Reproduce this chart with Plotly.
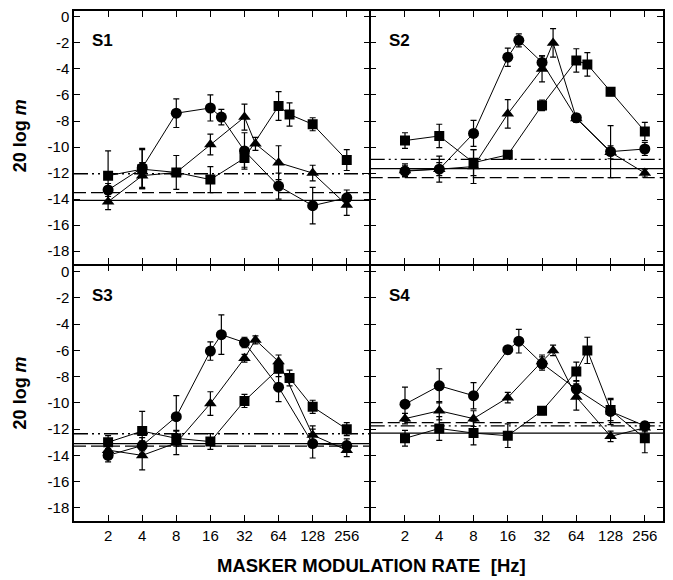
import math
import plotly.graph_objects as go

# ---------------- data ----------------
x_circ = [2, 4, 8, 16, 20, 32, 64, 128, 256]
x_tri = [2, 4, 8, 16, 32, 40, 64, 128, 256]
x_sq = [2, 4, 8, 16, 32, 64, 80, 128, 256]

# S1
s1_circ = [-13.3, -11.6, -7.4, -7.0, -7.7, -10.3, -13.0, -14.5, -13.9]
s1_circ_err = [0.5, 1.5, 1.1, 1.0, 0.6, 1.4, 1.0, 1.4, 0.6]
s1_tri = [-14.2, -12.2, -11.95, -9.8, -7.7, -9.75, -11.2, -12.0, -14.45]
s1_tri_err = [0.6, 1.0, 0.3, 0.8, 1.0, 0.5, 1.3, 0.6, 0.8]
s1_sq = [-12.2, -11.7, -11.95, -12.5, -10.85, -6.85, -7.5, -8.25, -11.0]
s1_sq_err = [1.9, 1.5, 1.3, 1.0, 0.7, 1.1, 0.9, 0.5, 0.8]
s1_lines = {"solid": -14.1, "dash": -13.5, "dashdotdot": -12.05}

# S2
s2_circ = [-11.85, -11.7, -8.95, -3.1, -1.8, -3.5, -7.75, -10.35, -10.15]
s2_circ_err = [0.4, 1.0, 1.0, 0.7, 0.5, 0.5, 0.3, 2.0, 0.5]
s2_tri = [-11.8, -11.7, -11.5, -7.45, -4.0, -2.0, -7.8, -10.4, -12.0]
s2_tri_err = [0.5, 0.5, 1.3, 1.1, 1.0, 1.1, 0.3, 0.5, 0.3]
s2_sq = [-9.5, -9.15, -11.2, -10.6, -6.8, -3.35, -3.65, -5.75, -8.8]
s2_sq_err = [0.6, 0.9, 1.0, 0.2, 0.4, 0.9, 0.9, 0.3, 0.7]
s2_lines = {"solid": -11.65, "dash": -12.35, "dashdotdot": -10.95}

# S3
s3_circ = [-14.0, -13.25, -11.05, -6.05, -4.8, -5.4, -8.8, -13.1, -13.25]
s3_circ_err = [0.5, 0.6, 1.6, 0.7, 1.5, 0.4, 1.1, 1.1, 0.5]
s3_tri = [-13.6, -14.0, -13.05, -10.05, -6.6, -5.2, -6.85, -12.45, -13.6]
s3_tri_err = [0.5, 1.1, 0.9, 0.9, 0.3, 0.3, 0.5, 0.7, 0.5]
s3_sq = [-13.0, -12.15, -12.7, -12.95, -9.85, -7.4, -8.1, -10.3, -12.0]
s3_sq_err = [0.5, 1.5, 0.6, 0.6, 0.5, 0.6, 0.6, 0.5, 0.5]
s3_lines = {"solid": -13.1, "dash": -13.3, "dashdotdot": -12.35}

# S4
s4_circ = [-10.1, -8.7, -9.45, -5.95, -5.3, -7.0, -8.95, -10.65, -11.75]
s4_circ_err = [1.3, 1.3, 1.0, 0.3, 0.9, 0.5, 0.6, 1.0, 0.3]
s4_tri = [-11.2, -10.6, -11.2, -9.6, -6.85, -6.0, -9.55, -12.55, -11.9]
s4_tri_err = [0.4, 0.7, 0.6, 0.4, 0.5, 0.4, 1.0, 0.4, 0.3]
s4_sq = [-12.7, -11.95, -12.3, -12.5, -10.6, -7.6, -6.0, -10.55, -12.7]
s4_sq_err = [0.6, 0.9, 0.9, 0.9, 0.3, 0.7, 1.0, 0.8, 1.1]
s4_lines = {"solid": -12.3, "dash": -11.5, "dashdotdot": -11.75}

panel_labels = ["S1", "S2", "S3", "S4"]
x_ticks = [2, 4, 8, 16, 32, 64, 128, 256]
x_tick_text = ["2", "4", "8", "16", "32", "64", "128", "256"]
y_ticks = [0, -2, -4, -6, -8, -10, -12, -14, -16, -18]
y_tick_text = ["0", "-2", "-4", "-6", "-8", "-10", "-12", "-14", "-16", "-18"]

panels = [
    (s1_circ, s1_circ_err, s1_tri, s1_tri_err, s1_sq, s1_sq_err, s1_lines),
    (s2_circ, s2_circ_err, s2_tri, s2_tri_err, s2_sq, s2_sq_err, s2_lines),
    (s3_circ, s3_circ_err, s3_tri, s3_tri_err, s3_sq, s3_sq_err, s3_lines),
    (s4_circ, s4_circ_err, s4_tri, s4_tri_err, s4_sq, s4_sq_err, s4_lines),
]

FONT = "Arial, Liberation Sans, sans-serif"
fig = go.Figure()

line_dash = {
    "solid": "solid",
    "dash": "12px,5px",
    "dashdotdot": "14px,4px,2px,4px,2px,4px",
}

for i, (c, ce, t, te, s, se, lines) in enumerate(panels):
    n = i + 1
    xa = "x" if n == 1 else f"x{n}"
    ya = "y" if n == 1 else f"y{n}"
    for xs, ys, es, sym, size in [
        (x_sq, s, se, "square", 10),
        (x_tri, t, te, "triangle-up", 11),
        (x_circ, c, ce, "circle", 11),
    ]:
        fig.add_trace(go.Scatter(
            x=xs, y=ys, mode="lines+markers", xaxis=xa, yaxis=ya,
            line=dict(color="black", width=1),
            marker=dict(symbol=sym, size=size, color="black"),
            error_y=dict(type="data", array=es, visible=True,
                         color="black", thickness=1.2, width=3),
            showlegend=False, hoverinfo="skip"))
    for style, yv in lines.items():
        fig.add_shape(type="line", xref=f"{xa} domain", yref=ya,
                      x0=0, x1=1, y0=yv, y1=yv,
                      line=dict(color="black", width=1.3, dash=line_dash[style]),
                      layer="below")

LW = 1.5
xdom_left = [0, 0.5013]
xdom_right = [0.5038, 1]
ydom_top = [0.5035, 1]
ydom_bot = [0, 0.5005]
yr = [-19, 0.45]
xr_left = [0, 8.66 * math.log10(2)]
xr_right = [0, 8.53 * math.log10(2)]

common_axis = dict(showline=True, linecolor="black", linewidth=LW,
                   mirror="ticks", ticks="inside", ticklen=6, tickwidth=1,
                   tickcolor="black", showgrid=False, zeroline=False,
                   tickfont=dict(family=FONT, size=15, color="black"))

def xaxis(dom, rng, anchor, labels):
    return dict(common_axis, type="log", domain=dom, range=rng, anchor=anchor,
                tickvals=x_ticks, ticktext=x_tick_text, showticklabels=labels)

def yaxis(dom, anchor, labels):
    return dict(common_axis, domain=dom, range=yr, anchor=anchor,
                tickvals=y_ticks, ticktext=y_tick_text, showticklabels=labels)

fig.update_layout(
    width=673, height=580,
    margin=dict(l=74, r=8, t=11, b=59),
    paper_bgcolor="white", plot_bgcolor="white",
    font=dict(family=FONT, color="black"),
    xaxis=xaxis(xdom_left, xr_left, "y", False),
    yaxis=yaxis(ydom_top, "x", True),
    xaxis2=xaxis(xdom_right, xr_right, "y2", False),
    yaxis2=yaxis(ydom_top, "x2", False),
    xaxis3=xaxis(xdom_left, xr_left, "y3", True),
    yaxis3=yaxis(ydom_bot, "x3", True),
    xaxis4=xaxis(xdom_right, xr_right, "y4", True),
    yaxis4=yaxis(ydom_bot, "x4", False),
)

for i, lab in enumerate(panel_labels):
    n = i + 1
    xa = "x" if n == 1 else f"x{n}"
    ya = "y" if n == 1 else f"y{n}"
    fig.add_annotation(text=f"<b>{lab}</b>", xref=f"{xa} domain", yref=f"{ya} domain",
                       x=0.055, y=0.885, xanchor="left", yanchor="middle",
                       showarrow=False, font=dict(family=FONT, size=17, color="black"))

for yp in [0.755, 0.251]:
    fig.add_annotation(text="<b>20 log <i>m</i></b>", xref="paper", yref="paper",
                       x=-0.091, y=yp, xanchor="center", yanchor="middle", textangle=-90,
                       showarrow=False, font=dict(family=FONT, size=18, color="black"))

fig.add_annotation(text="<b>MASKER MODULATION RATE  [Hz]</b>", xref="paper", yref="paper",
                   x=0.505, y=-0.088, xanchor="center", yanchor="middle",
                   showarrow=False, font=dict(family=FONT, size=18.5, color="black"))

fig.write_html("out.html")
